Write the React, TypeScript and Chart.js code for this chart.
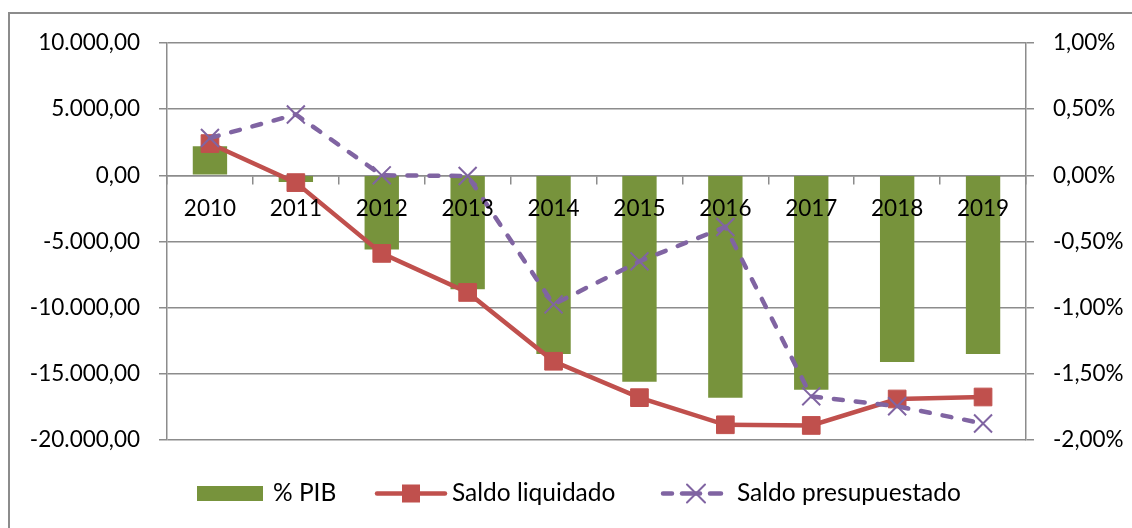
import React, { useEffect, useRef } from 'react';
import { Chart, registerables } from 'chart.js';

Chart.register(...registerables);

const categories = ['2010', '2011', '2012', '2013', '2014', '2015', '2016', '2017', '2018', '2019'];
const pctPIB = [0.22, -0.05, -0.56, -0.86, -1.35, -1.56, -1.68, -1.62, -1.41, -1.35];
const saldoLiquidado = [2400, -550, -5900, -8850, -14050, -16800, -18850, -18900, -16900, -16750];
const saldoPresupuestado = [2820, 4600, 0, -50, -9750, -6500, -3900, -16700, -17450, -18750];
const leftTicks = [-20000, -15000, -10000, -5000, 0, 5000, 10000];
const rightTicks = [-2, -1.5, -1, -0.5, 0, 0.5, 1];
const legendLabels = ['% PIB', 'Saldo liquidado', 'Saldo presupuestado'];

const GREEN = '#77933C';
const RED = '#C0504D';
const PURPLE = '#8064A2';
const GRID = '#8c8c8c';
const FONT = 'Lato';
const AXIS_FONT_SIZE = 22.5;
const LEGEND_FONT_SIZE = 24.5;

function fmtThousands(v: number): string {
  const neg = v < 0;
  const abs = Math.abs(v);
  const intPart = Math.floor(abs).toString().replace(/\B(?=(\d{3})+(?!\d))/g, '.');
  return (neg ? '-' : '') + intPart + ',00';
}

function fmtPct(v: number): string {
  return v.toFixed(2).replace('.', ',') + '%';
}

const legendPlugin = {
  id: 'customLegend',
  afterDraw(chart: any) {
    const ctx = chart.ctx as CanvasRenderingContext2D;
    const y = 493.5;
    ctx.save();
    ctx.font = `${LEGEND_FONT_SIZE}px ${FONT}`;
    ctx.textBaseline = 'middle';
    // % PIB
    ctx.fillStyle = GREEN;
    ctx.fillRect(197, 486, 66, 15);
    ctx.fillStyle = '#000';
    ctx.fillText(legendLabels[0], 273, y);
    // Saldo liquidado
    ctx.strokeStyle = RED;
    ctx.lineWidth = 4.5;
    ctx.lineCap = 'round';
    ctx.beginPath();
    ctx.moveTo(377, y);
    ctx.lineTo(445, y);
    ctx.stroke();
    ctx.fillStyle = RED;
    ctx.fillRect(411 - 9, y - 9, 18, 18);
    ctx.fillStyle = '#000';
    ctx.fillText(legendLabels[1], 452, y);
    // Saldo presupuestado
    ctx.strokeStyle = PURPLE;
    ctx.lineWidth = 4.5;
    ctx.beginPath();
    ctx.moveTo(663, y);
    ctx.lineTo(672, y);
    ctx.moveTo(710, y);
    ctx.lineTo(721, y);
    ctx.stroke();
    ctx.lineWidth = 2;
    ctx.beginPath();
    ctx.moveTo(696 - 9, y - 9);
    ctx.lineTo(696 + 9, y + 9);
    ctx.moveTo(696 + 9, y - 9);
    ctx.lineTo(696 - 9, y + 9);
    ctx.stroke();
    ctx.lineWidth = 4.5;
    ctx.beginPath();
    ctx.moveTo(682, y);
    ctx.lineTo(700, y);
    ctx.stroke();
    ctx.fillStyle = '#000';
    ctx.fillText(legendLabels[2], 737, y);
    ctx.restore();
  },
};

export default function App() {
  const canvasRef = useRef<HTMLCanvasElement | null>(null);

  useEffect(() => {
    if (!canvasRef.current) return;
    const chart = new Chart(canvasRef.current, {
      type: 'bar',
      data: {
        labels: categories,
        datasets: [
          {
            type: 'bar',
            label: legendLabels[0],
            data: pctPIB,
            yAxisID: 'y1',
            backgroundColor: GREEN,
            barPercentage: 0.4,
            categoryPercentage: 1,
            order: 3,
          },
          {
            type: 'line',
            label: legendLabels[1],
            data: saldoLiquidado,
            yAxisID: 'y',
            borderColor: RED,
            backgroundColor: RED,
            borderWidth: 4.5,
            pointStyle: 'rect',
            pointRadius: 12.5,
            pointBorderWidth: 1,
            pointBackgroundColor: RED,
            pointBorderColor: RED,
            order: 2,
          },
          {
            type: 'line',
            label: legendLabels[2],
            data: saldoPresupuestado,
            yAxisID: 'y',
            borderColor: PURPLE,
            backgroundColor: PURPLE,
            borderWidth: 4.5,
            borderDash: [9, 13],
            borderCapStyle: 'round',
            pointStyle: 'crossRot',
            pointRadius: 12.7,
            pointBorderWidth: 2,
            pointBorderColor: PURPLE,
            order: 1,
          },
        ] as any,
      },
      options: {
        animation: false,
        responsive: false,
        maintainAspectRatio: false,
        devicePixelRatio: 1,
        layout: { padding: { top: 43, bottom: 88, left: 0, right: 0 } },
        plugins: {
          legend: { display: false },
          tooltip: { enabled: false },
        },
        scales: {
          x: {
            position: { y: 0 } as any,
            grid: {
              offset: true,
              drawOnChartArea: false,
              drawTicks: true,
              tickLength: 8,
              color: GRID,
              lineWidth: 1.5,
            },
            border: { display: true, color: GRID, width: 1.5 },
            ticks: {
              z: 1,
              color: '#000',
              font: { family: FONT, size: AXIS_FONT_SIZE },
              padding: 12,
              maxRotation: 0,
            },
          },
          y: {
            position: 'left',
            min: -20000,
            max: 10000,
            afterBuildTicks(scale: any) {
              scale.ticks = leftTicks.map((v) => ({ value: v }));
            },
            afterFit(scale: any) {
              scale.width = 167;
            },
            grid: {
              color: GRID,
              lineWidth: 1.5,
              tickLength: 8,
              drawTicks: true,
            },
            border: { display: true, color: GRID, width: 1.5 },
            ticks: {
              color: '#000',
              font: { family: FONT, size: AXIS_FONT_SIZE },
              padding: 19,
              callback: (v: any) => fmtThousands(Number(v)),
            },
          },
          y1: {
            position: 'right',
            min: -2,
            max: 1,
            afterBuildTicks(scale: any) {
              scale.ticks = rightTicks.map((v) => ({ value: v }));
            },
            afterFit(scale: any) {
              scale.width = 106;
            },
            grid: {
              drawOnChartArea: false,
              color: GRID,
              lineWidth: 1.5,
              tickLength: 8,
              drawTicks: true,
            },
            border: { display: true, color: GRID, width: 1.5 },
            ticks: {
              color: '#000',
              font: { family: FONT, size: AXIS_FONT_SIZE },
              padding: 19,
              callback: (v: any) => fmtPct(Number(v)),
            },
          },
        },
      },
      plugins: [legendPlugin],
    });
    return () => chart.destroy();
  }, []);

  return (
    <div
      style={{
        position: 'fixed',
        left: 0,
        top: 0,
        width: 1132,
        height: 528,
        overflow: 'hidden',
        background: '#fff',
      }}
    >
      <div
        style={{
          position: 'absolute',
          left: 8,
          top: 12,
          width: 1140,
          height: 540,
          border: `2px solid ${GRID}`,
          boxSizing: 'border-box',
        }}
      />
      <canvas
        ref={canvasRef}
        width={1132}
        height={528}
        style={{ position: 'absolute', left: 0, top: 0, width: 1132, height: 528 }}
      />
    </div>
  );
}
